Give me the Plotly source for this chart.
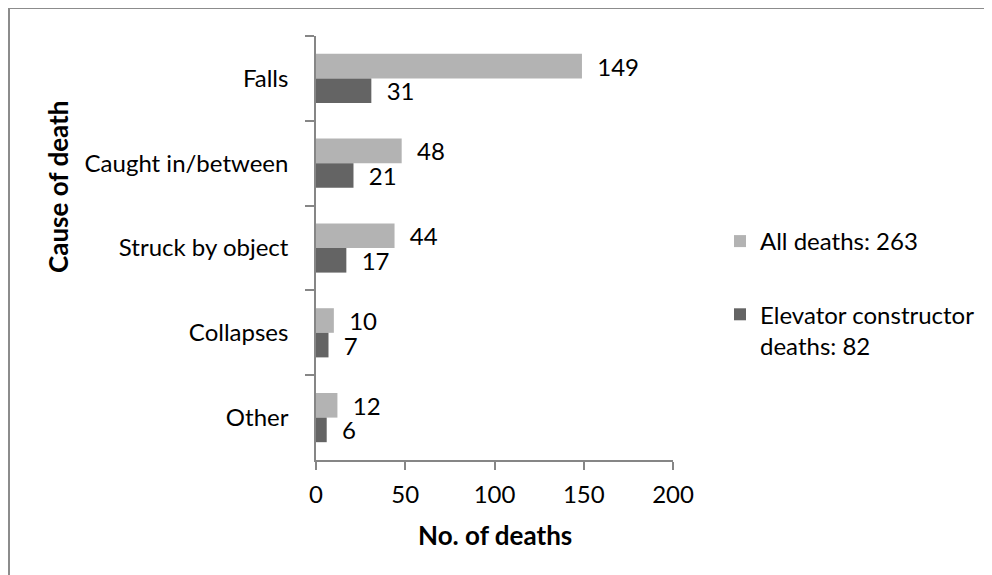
import plotly.graph_objects as go

causes = ["Falls", "Caught in/between", "Struck by object", "Collapses", "Other"]
all_deaths = [149, 48, 44, 10, 12]
elevator_deaths = [31, 21, 17, 7, 6]
series_names = ["All deaths: 263", "Elevator constructor<br>deaths: 82"]
x_ticks = [0, 50, 100, 150, 200]

FONT = "Lato, 'Open Sans', sans-serif"
FS = 24
AXIS_GRAY = "#868686"
PAD = "\u00a0\u00a0"

# the page body has an 8px margin, so figure coords = page coords - 8
W, H = 984, 567
L, R, T, B = 308, 319, 28, 115
pw, ph = W - L - R, H - T - B


def px_x(x):
    return (x - L) / pw


def px_y(y):
    return (H - B - y) / ph


fig = go.Figure()
for vals, name, color in [(all_deaths, series_names[0], "#b3b3b3"),
                          (elevator_deaths, series_names[1], "#646464")]:
    fig.add_trace(go.Bar(
        y=causes, x=vals, name=name, orientation="h",
        marker=dict(color=color, line=dict(width=0)),
        text=[PAD + str(v) for v in vals],
        textposition="outside",
        textfont=dict(family=FONT, size=FS, color="black"),
        cliponaxis=False,
        constraintext="none",
        legendgroup=name,
    ))

fig.update_layout(
    width=W, height=H,
    margin=dict(l=L, r=R, t=T, b=B),
    paper_bgcolor="white", plot_bgcolor="white",
    barmode="group", bargap=0.42, bargroupgap=0,
    font=dict(family=FONT, size=FS, color="black"),
    showlegend=True,
    legend=dict(x=px_x(712), y=px_y(211), xanchor="left", yanchor="top",
                font=dict(family=FONT, size=FS, color="black"),
                tracegroupgap=39, traceorder="grouped", valign="top",
                bgcolor="rgba(0,0,0,0)"),
    xaxis=dict(range=[0, 200], tickvals=x_ticks, showgrid=False, zeroline=False,
               showline=True, linecolor=AXIS_GRAY, linewidth=1.5,
               ticks="outside", ticklen=8, tickcolor=AXIS_GRAY, tickwidth=1.5,
               ticklabelstandoff=4, tickfont=dict(size=FS)),
    yaxis=dict(autorange="reversed", showgrid=False, zeroline=False,
               showline=True, linecolor=AXIS_GRAY, linewidth=1.5,
               ticks="outside", ticklen=9, tickcolor=AXIS_GRAY, tickwidth=1.5,
               tickson="boundaries", ticklabelstandoff=21, tickfont=dict(size=FS)),
)

fig.add_annotation(text="<b>Cause of death</b>", textangle=-90,
                   x=px_x(50), y=px_y(179), xref="paper", yref="paper",
                   xanchor="center", yanchor="middle",
                   showarrow=False, font=dict(family=FONT, size=26))
fig.add_annotation(text="<b>No. of deaths</b>",
                   x=0.5, y=px_y(527), xref="paper", yref="paper",
                   xanchor="center", yanchor="middle",
                   showarrow=False, font=dict(family=FONT, size=26))

# outer chart border (runs off the right and bottom edges)
fig.add_shape(type="rect", xref="paper", yref="paper",
              x0=px_x(1), x1=px_x(1010), y0=px_y(0), y1=px_y(600),
              line=dict(color="#8c8c8c", width=2), layer="below")

fig.write_html("out.html")
